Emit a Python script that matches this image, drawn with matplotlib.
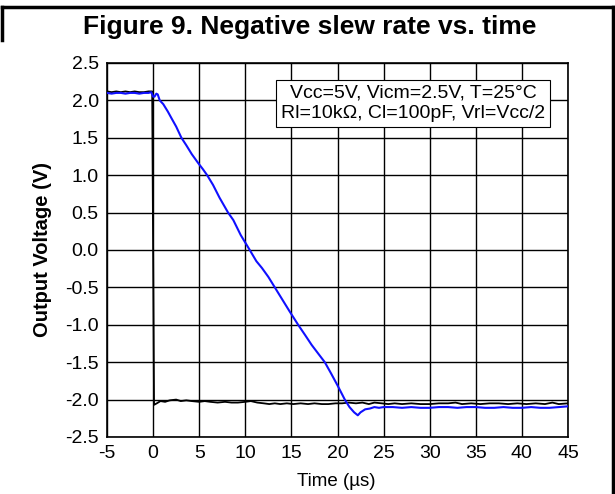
import matplotlib
matplotlib.use("Agg")
import matplotlib.pyplot as plt
from matplotlib.lines import Line2D

plt.rcParams['font.family'] = ['Liberation Sans', 'DejaVu Sans']
plt.rcParams['axes.unicode_minus'] = False

# black trace (input step)
black_t = [-5, -4.5, -4, -3.5, -3, -2.5, -2, -1.5, -1, -0.5, -0.1, 0.1, 0.4, 0.8,
           1.3, 1.8, 2.5, 3.0, 3.6, 4.2, 5.0, 5.6, 6.2, 7.0, 7.8, 8.5, 9.2, 10.0,
           10.6, 11.3, 12.0, 12.6, 13.2, 13.8, 14.5, 15.2, 16.0, 16.8, 17.5, 18.3,
           19.0, 19.8, 20.5, 21.2, 22.0, 22.7, 23.4, 24.0, 24.8, 25.5, 26.2, 27,
           28, 29, 30, 31, 32, 32.8, 33.5, 34.5, 35.5, 36.5, 37.5, 38.5, 39.5,
           40.5, 41.5, 42.5, 43.3, 44, 45]
black_v = [2.12, 2.11, 2.12, 2.11, 2.12, 2.11, 2.12, 2.11, 2.11, 2.12, 2.12, -2.07,
           -2.05, -2.02, -2.03, -2.01, -2.00, -2.02, -2.01, -2.02, -2.03, -2.02,
           -2.03, -2.04, -2.03, -2.04, -2.04, -2.03, -2.02, -2.04, -2.05, -2.06,
           -2.05, -2.06, -2.05, -2.06, -2.05, -2.06, -2.05, -2.06, -2.06, -2.05,
           -2.05, -2.04, -2.05, -2.04, -2.06, -2.04, -2.05, -2.06, -2.05, -2.06,
           -2.05, -2.06, -2.06, -2.05, -2.05, -2.04, -2.06, -2.05, -2.06, -2.05,
           -2.05, -2.06, -2.05, -2.06, -2.05, -2.06, -2.04, -2.06, -2.05]

# blue trace (output)
blue_t = [-5, -4.5, -4, -3.5, -3, -2.5, -2, -1.5, -1, -0.5, -0.2, 0.0, 0.15, 0.35,
          0.5, 0.72, 1.1, 1.6, 2.0, 2.5, 3.07, 3.6, 4.2, 4.9, 5.4, 5.86, 6.5, 7.2,
          8.13, 8.7, 9.5, 10.48, 11.2, 11.8, 12.5, 13.2, 13.9, 14.8, 15.73, 16.5,
          17.2, 18.0, 18.62, 19.3, 20.0, 20.79, 21.3, 21.8, 22.2, 22.5, 23.0, 23.5,
          24.0, 24.5, 25, 26, 27, 28, 29, 30, 31, 32, 33, 34, 35, 36, 37, 38, 39,
          40, 41, 42, 43, 44, 45]
blue_v = [2.10, 2.09, 2.10, 2.10, 2.09, 2.10, 2.10, 2.09, 2.10, 2.10, 2.11, 2.05,
          2.05, 2.09, 2.08, 2.00, 1.95, 1.85, 1.76, 1.65, 1.50, 1.40, 1.28, 1.16,
          1.08, 1.00, 0.87, 0.70, 0.50, 0.40, 0.20, 0.00, -0.15, -0.24, -0.36,
          -0.50, -0.64, -0.82, -1.00, -1.14, -1.27, -1.40, -1.50, -1.65, -1.81,
          -2.00, -2.10, -2.17, -2.21, -2.17, -2.13, -2.12, -2.10, -2.11, -2.10,
          -2.10, -2.11, -2.10, -2.11, -2.11, -2.10, -2.10, -2.11, -2.10, -2.10,
          -2.11, -2.11, -2.10, -2.11, -2.11, -2.10, -2.11, -2.11, -2.10, -2.09]

x_ticks = [-5, 0, 5, 10, 15, 20, 25, 30, 35, 40, 45]
y_ticks = [2.5, 2.0, 1.5, 1.0, 0.5, 0.0, -0.5, -1.0, -1.5, -2.0, -2.5]
note = "Vcc=5V, Vicm=2.5V, T=25\u00b0C\nRl=10k\u03a9, Cl=100pF, Vrl=Vcc/2"

fig = plt.figure(figsize=(6.15, 4.94), dpi=100)
ax = fig.add_axes([0.174, 0.1154, 0.7496, 0.7571])

ax.plot(black_t, black_v, color='black', lw=1.3, zorder=3)
ax.plot(blue_t, blue_v, color='#1010ff', lw=1.5, zorder=4)

ax.set_xlim(-5, 45)
ax.set_ylim(-2.5, 2.5)
ax.set_xticks(x_ticks)
ax.set_yticks(y_ticks)
ax.set_yticklabels(['%.1f' % v for v in y_ticks])
ax.tick_params(length=0, labelsize=14, pad=6)
ax.grid(True, color='black', lw=1.0)
ax.set_axisbelow(True)
for s in ax.spines.values():
    s.set_linewidth(1.2)

ax.set_xlabel('Time (\u00b5s)', fontsize=13.5)
ax.set_ylabel('Output Voltage (V)', fontsize=14.5, fontweight='bold')
ax.xaxis.set_label_coords(0.497, -0.095)
ax.yaxis.set_label_coords(-0.12, 0.5)

ax.text(28.2, 1.96, note, fontsize=14, ha='center', va='center', linespacing=1.3,
        zorder=5, bbox=dict(boxstyle='square,pad=0.25', fc='white', ec='black', lw=0.8))

fig.text(0.503, 0.945, 'Figure 9. Negative slew rate vs. time', fontsize=19,
         fontweight='bold', ha='center', va='center')

# page frame pieces
top_y = 1 - 7 / 494
fig.add_artist(Line2D([2 / 615, 613 / 615], [top_y, top_y], color='black', lw=2.5))
fig.add_artist(Line2D([2 / 615, 2 / 615], [1 - 40 / 494, top_y], color='black', lw=2.5))
fig.add_artist(Line2D([613 / 615, 613 / 615], [0, top_y], color='black', lw=2.5))

fig.savefig('out.png', dpi=100)
plt.close(fig)
